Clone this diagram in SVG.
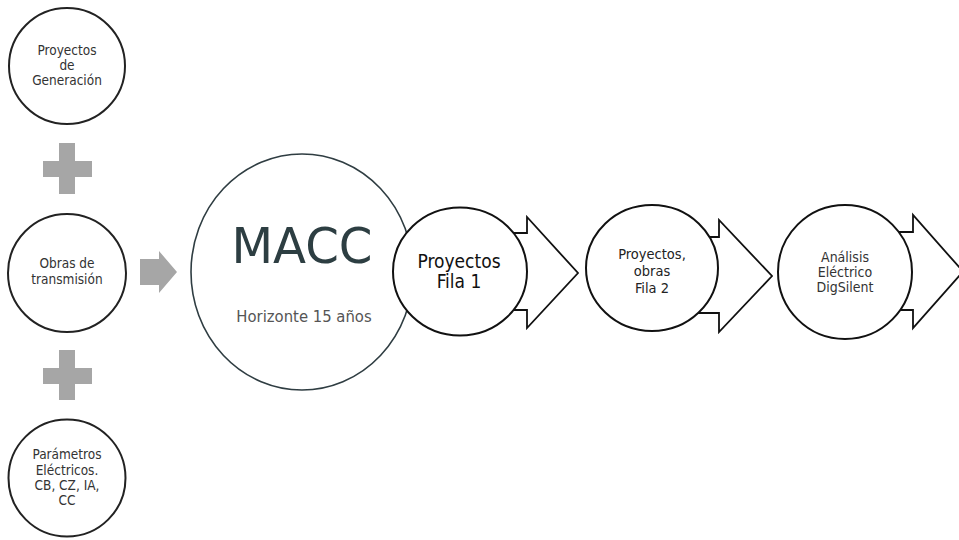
<svg xmlns="http://www.w3.org/2000/svg" width="959" height="540" viewBox="0 0 959 540">
<style>
.bg{fill:#ffffff}
.in{fill:#ffffff;stroke:#222222;stroke-width:2}
.step{fill:#ffffff;stroke:#111111;stroke-width:2}
.macc{fill:#ffffff;stroke:#2f3d42;stroke-width:1.6}
.blk{fill:#ffffff;stroke:#111111;stroke-width:1.8;stroke-linejoin:miter}
.gray{fill:#a6a6a6}
.t{font-family:"DejaVu Sans Condensed","Liberation Sans",Arial,sans-serif;text-anchor:middle}
.ts{font-size:13.5px;fill:#333333}
.tm{font-size:14.5px;fill:#222222}
.tl{font-size:19px;fill:#111111}
</style>
<rect class="bg" x="0" y="0" width="959" height="540"/>
<g id="connectors">
  <path class="gray" d="M59,143 H75 V161 H92 V177 H75 V194 H59 V177 H43 V161 H59 Z"/>
  <path class="gray" d="M59,350 H75 V368 H92 V384 H75 V400 H59 V384 H43 V368 H59 Z"/>
  <path class="gray" d="M140,259 H159 V251 L177,272 L159,293 V285 H140 Z"/>
  <path class="blk" d="M440,233 H527 V217 L578,273 L527,328 V310 H440 Z"/>
  <path class="blk" d="M630,237 H719 V220 L772,276 L719,332 V313 H630 Z"/>
  <path class="blk" d="M830,232 H913 V215 L963,271.5 L913,328 V310 H830 Z"/>
</g>
<g id="node-generacion">
  <circle class="in" cx="67" cy="66" r="58"/>
  <text class="t ts" x="67" y="55">Proyectos</text>
  <text class="t ts" x="67" y="70">de</text>
  <text class="t ts" x="67" y="85">Generación</text>
</g>
<g id="node-transmision">
  <circle class="in" cx="67" cy="273" r="59"/>
  <text class="t ts" x="67" y="268">Obras de</text>
  <text class="t ts" x="67" y="284">transmisión</text>
</g>
<g id="node-parametros">
  <circle class="in" cx="67" cy="478" r="58.5"/>
  <text class="t ts" x="67" y="459">Parámetros</text>
  <text class="t ts" x="67" y="475">Eléctricos.</text>
  <text class="t ts" x="67" y="490">CB, CZ, IA,</text>
  <text class="t ts" x="67" y="505">CC</text>
</g>
<g id="node-macc">
  <ellipse class="macc" cx="302" cy="272" rx="111" ry="118"/>
  <text class="t" x="302" y="263" font-size="50" fill="#2d3e42" textLength="141" lengthAdjust="spacingAndGlyphs">MACC</text>
  <text class="t" x="304" y="322" font-size="16.5" fill="#555555">Horizonte 15 años</text>
</g>
<g id="node-fila1">
  <ellipse class="step" cx="460" cy="271.5" rx="67" ry="64"/>
  <text class="t tl" x="459" y="268">Proyectos</text>
  <text class="t tl" x="459" y="288">Fila 1</text>
</g>
<g id="node-fila2">
  <ellipse class="step" cx="652" cy="268" rx="66" ry="63"/>
  <text class="t tm" x="652" y="259">Proyectos,</text>
  <text class="t tm" x="652" y="276">obras</text>
  <text class="t tm" x="652" y="293">Fila 2</text>
</g>
<g id="node-analisis">
  <ellipse class="step" cx="845" cy="272" rx="67" ry="67"/>
  <text class="t ts" x="845" y="262" style="font-size:14px">Análisis</text>
  <text class="t ts" x="845" y="277" style="font-size:14px">Eléctrico</text>
  <text class="t ts" x="845" y="292" style="font-size:14px">DigSilent</text>
</g>
</svg>
